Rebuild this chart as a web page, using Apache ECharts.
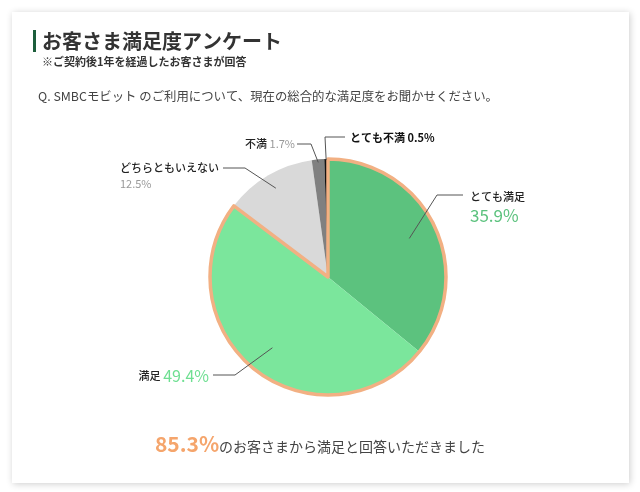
<!DOCTYPE html>
<html><head><meta charset="utf-8">
<script src="https://cdn.jsdelivr.net/npm/echarts@6/dist/echarts.min.js"></script>
<style>
html,body{margin:0;padding:0;background:#fff;}
#card{position:absolute;left:12px;top:12px;width:617px;height:471px;background:#fff;box-shadow:1px 1px 7px rgba(0,0,0,0.20);}
#main{position:absolute;left:0;top:0;width:640px;height:492px;}
</style></head><body>
<div id="card"></div><div id="main"></div>
<script>
// ---- data ----
const categories = ['とても満足', '満足', 'どちらともいえない', '不満', 'とても不満'];
const values = [35.9, 49.4, 12.5, 1.7, 0.5];
const satisfiedIdx = [0, 1];
const titleText = 'お客さま満足度アンケート';
const subText = '※ご契約後1年を経過したお客さまが回答';
const questionText = 'Q. SMBCモビット のご利用について、現在の総合的な満足度をお聞かせください。';
const summaryText = 'のお客さまから満足と回答いただきました';

// ---- style ----
const FONT = "'Noto Sans CJK JP', 'Noto Sans', sans-serif";
const colors = ['#5cc27e', '#7be69c', '#d9d9d9', '#808080', '#111111'];
const ORANGE = '#f2b083';
const CENTER = [328, 277];
const R = 118;
const labelFormats = [
  '{n|{name}}\n{vg|{pct}}',
  '{n|{name}} {vl|{pct}}',
  '{n|{name}}\n{g|{pct}}',
  '{n|{name}} {g|{pct}}',
  '{b|{name} {pct}}'
];
const labelCfg = [
  {x: 470, y: 189, align: 'left',  va: 'top',    lineY: 195, endX: 463, len2: 26, startR: 90},
  {x: 209, y: 376, align: 'right', va: 'middle', lineY: 375, endX: 213, len2: 22, startR: 90},
  {x: 120, y: 160, align: 'left',  va: 'top',    lineY: 168, endX: 223, len2: 22, startR: 103},
  {x: 295, y: 144, align: 'right', va: 'middle', lineY: 144, endX: 297, len2: 14, startR: 115},
  {x: 350, y: 138, align: 'left',  va: 'middle', lineY: 137, endX: 345, len2: 20, startR: 117}
];

const satisfiedTotal = satisfiedIdx.reduce((s, i) => s + values[i], 0);
const otherTotal = values.reduce((s, v) => s + v, 0) - satisfiedTotal;

const chart = echarts.init(document.getElementById('main'), null, {renderer: 'canvas'});

const mainData = categories.map((c, i) => ({name: c, value: values[i], itemStyle: {color: colors[i]}}));
const labelData = categories.map((c, i) => ({name: c, value: values[i]}));

const option = {
  animation: false,
  textStyle: {fontFamily: FONT},
  graphic: [
    {type: 'rect', left: 33, top: 30, shape: {width: 3, height: 22}, style: {fill: '#1d5e3c'}}
  ],
  title: [
    {
      text: titleText, subtext: subText, left: 42, top: 31, padding: 0, itemGap: 5,
      textStyle: {fontFamily: FONT, fontSize: 20, fontWeight: 'bold', color: '#333'},
      subtextStyle: {fontFamily: FONT, fontSize: 11, fontWeight: 'bold', color: '#333'}
    },
    {
      text: questionText, left: 38, top: 90, padding: 0,
      textStyle: {fontFamily: FONT, fontSize: 12.4, fontWeight: 'normal', color: '#444'}
    },
    {
      text: '{o|' + satisfiedTotal.toFixed(1) + '%}{t|' + summaryText + '}',
      left: 'center', top: 434, padding: 0,
      textStyle: {
        fontWeight: 'normal',
        rich: {
          o: {fontFamily: FONT, fontSize: 21, fontWeight: 'bold', color: '#f5a56c'},
          t: {fontFamily: FONT, fontSize: 14, fontWeight: 'normal', color: '#444', padding: [4, 0, 0, 0]}
        }
      }
    }
  ],
  series: [
    {
      type: 'pie', z: 1, center: CENTER, radius: R, startAngle: 90, clockwise: true,
      silent: true, label: {show: false}, labelLine: {show: false},
      data: mainData
    },
    {
      type: 'pie', z: 2, center: CENTER, radius: R, startAngle: 90, clockwise: true,
      silent: true, label: {show: false}, labelLine: {show: false},
      data: [
        {name: 'satisfied', value: satisfiedTotal, itemStyle: {color: 'rgba(0,0,0,0)', borderColor: ORANGE, borderWidth: 3.5, borderJoin: 'round'}},
        {name: 'other', value: otherTotal, itemStyle: {color: 'rgba(0,0,0,0)', borderWidth: 0}}
      ]
    },
    {
      type: 'pie', z: 5, center: CENTER, radius: 88, startAngle: 90, clockwise: true,
      silent: true, avoidLabelOverlap: false,
      itemStyle: {color: 'rgba(0,0,0,0)'},
      label: {
        show: true, position: 'outside', fontFamily: FONT,
        formatter: function (p) {
          return labelFormats[p.dataIndex].replace('{name}', p.name).replace('{pct}', p.value.toFixed(1) + '%');
        },
        rich: {
          n: {fontFamily: FONT, fontSize: 11, color: '#222', lineHeight: 16, fontWeight: 500, align: 'left'},
          vg: {fontFamily: FONT, fontSize: 17, color: '#5cc27e', lineHeight: 22, align: 'left'},
          vl: {fontFamily: FONT, fontSize: 16, color: '#6fdf92'},
          g: {fontFamily: FONT, fontSize: 11, color: '#999', lineHeight: 16, align: 'left'},
          b: {fontFamily: FONT, fontSize: 11, color: '#111', fontWeight: 'bold'}
        }
      },
      labelLine: {show: true, length: 20, length2: 20, lineStyle: {color: '#555', width: 1}},
      labelLayout: function (p) {
        const c = labelCfg[p.dataIndex];
        const res = {x: c.x, y: c.y, align: c.align, verticalAlign: c.va};
        const pts = p.labelLinePoints;
        if (pts && pts[0]) {
          const dx = pts[0][0] - CENTER[0], dy = pts[0][1] - CENTER[1];
          const d = Math.sqrt(dx * dx + dy * dy) || 1;
          const start = [CENTER[0] + dx / d * c.startR, CENTER[1] + dy / d * c.startR];
          const sign = c.endX > CENTER[0] ? -1 : 1;
          const end = [c.endX, c.lineY];
          const elbow = [end[0] + sign * c.len2, c.lineY];
          res.labelLinePoints = [start, elbow, end];
        }
        return res;
      },
      data: labelData
    }
  ]
};
chart.setOption(option);
</script>
</body></html>
